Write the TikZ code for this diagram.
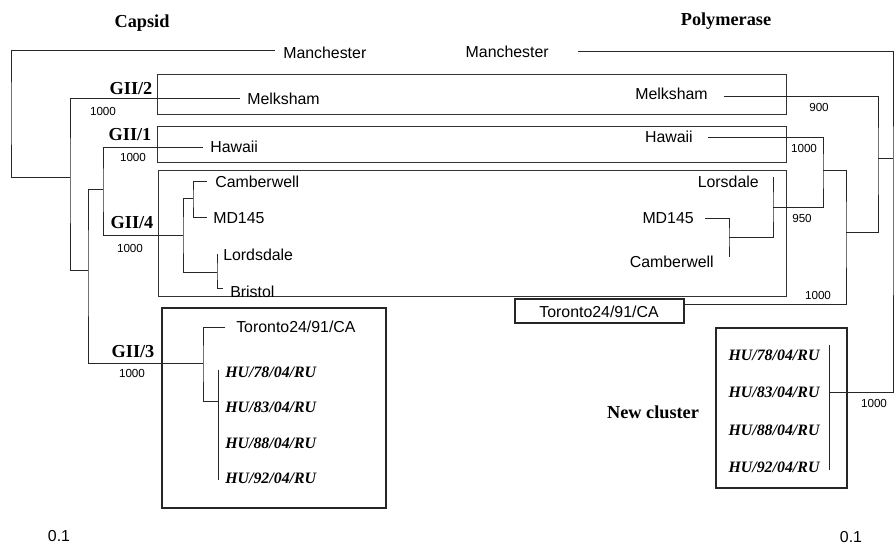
\documentclass[tikz,border=0pt]{standalone}
\usepackage{fontspec}
\setmainfont{Liberation Serif}
\setsansfont{Liberation Sans}
\usetikzlibrary{positioning}

\tikzset{
  leaf/.style={font=\sffamily\fontsize{11.3}{13}\selectfont, inner sep=0pt},
  clade/.style={font=\bfseries\fontsize{13}{15}\selectfont, inner sep=0pt},
  boot/.style={font=\sffamily\fontsize{8.3}{10}\selectfont, inner sep=0pt},
  strain/.style={font=\bfseries\itshape\fontsize{11.3}{13}\selectfont, inner sep=0pt},
  branch/.style={line width=0.7pt, draw=black!85},
  frame/.style={line width=0.55pt, draw=black!80},
  thickframe/.style={line width=1.1pt, draw=black!85}
}

\begin{document}
\begin{tikzpicture}[x=0.025cm, y=-0.025cm]
    \useasboundingbox (0,0) rectangle (896,544);

    % Titles
    \node[clade] (tCap) at (142,23) {Capsid};
    \node[clade] (tPol) at (726,21) {Polymerase};

    % Genogroup boxes
    \draw[frame] (157,74) rectangle (786,114);
    \draw[frame] (157,126) rectangle (786,162);
    \draw[frame] (158,170) rectangle (786,296);
    \draw[thickframe] (162,308) rectangle (386,508);
    \draw[thickframe] (716,328) rectangle (847,488);
    \draw[thickframe] (515,299) rectangle (684,323);

    % Capsid tree (left)
    \coordinate (lRoot) at (11,113);
    \coordinate (lMan) at (275,50);
    \coordinate (lN0) at (70,177);
    \coordinate (lMel) at (240,98);
    \coordinate (lN1) at (88,270);
    \coordinate (lN2) at (103,189);
    \coordinate (lHaw) at (203,147);
    \coordinate (lN3) at (183,235);
    \coordinate (lN4) at (193,198);
    \coordinate (lCam) at (207,181);
    \coordinate (lMD) at (207,217);
    \coordinate (lN5) at (217,272);
    \coordinate (lLor) at (217,254);
    \coordinate (lBri) at (223,288);
    \coordinate (lN6) at (203,363);
    \coordinate (lTor) at (225,327);
    \coordinate (lN7) at (218,401);
    \coordinate (lHUa) at (218,370);
    \coordinate (lHUb) at (218,480);

    \draw[branch] (lMan) -| (lRoot) |- (lN0);
    \draw[branch] (lMel) -| (lN0) |- (lN1);
    \draw[branch] (lN2) -| (lN1) |- (lN6);
    \draw[branch] (lHaw) -| (lN2) |- (lN3);
    \draw[branch] (lN4) -| (lN3) |- (lN5);
    \draw[branch] (lCam) -| (lN4) |- (lMD);
    \draw[branch] (lLor) -| (lN5) |- (lBri);
    \draw[branch] (lTor) -| (lN6) |- (lN7);
    \draw[branch] (lHUa) -- (lHUb);

    % Capsid leaves
    \node[leaf, anchor=west] (nlMan) at (283,53) {Manchester};
    \node[leaf, anchor=west] (nlMel) at (247,99) {Melksham};
    \node[leaf, anchor=west] (nlHaw) at (210,147) {Hawaii};
    \node[leaf, anchor=west] (nlCam) at (215,182) {Camberwell};
    \node[leaf, anchor=west] (nlMD) at (213,218) {MD145};
    \node[leaf, anchor=west] (nlLor) at (223,255) {Lordsdale};
    \node[leaf, anchor=west] (nlBri) at (230,292) {Bristol};
    \node[leaf, anchor=west] (nlTor) at (236,327) {Toronto24/91/CA};
    \foreach \n/\y in {78/372, 83/407, 88/443, 92/478} {
      \node[strain, anchor=west] (nlHU\n) at (225,\y) {HU/\n/04/RU};
    }

    % Genogroups and bootstrap values
    \foreach \g/\x/\y in {2/131/89, 1/130/135, 4/132/223, 3/133/352} {
      \node[clade] (gII\g) at (\x,\y) {GII/\g};
    }
    \foreach \x/\y [count=\i] in {103/111, 133/157, 130/248, 132/373} {
      \node[boot] (bL\i) at (\x,\y) {1000};
    }

    % Polymerase tree (right)
    \coordinate (rRoot) at (893,200);
    \coordinate (rMan) at (578,51);
    \coordinate (rA) at (878,158);
    \coordinate (rMel) at (724,96);
    \coordinate (rB) at (846,232);
    \coordinate (rC) at (823,170);
    \coordinate (rTor) at (684,304);
    \coordinate (rHaw) at (708,137);
    \coordinate (rD) at (773,207);
    \coordinate (rLor) at (773,177);
    \coordinate (rE) at (729,237);
    \coordinate (rMD) at (705,218);
    \coordinate (rCam) at (729,257);
    \coordinate (rNC) at (829,392);
    \coordinate (rHUa) at (829,345);
    \coordinate (rHUb) at (829,470);

    \draw[branch] (rMan) -| (rRoot) |- (rNC);
    \draw[branch] (rA) -- (rA -| rRoot);
    \draw[branch] (rMel) -| (rA) |- (rB);
    \draw[branch] (rC) -| (rB) |- (rTor);
    \draw[branch] (rHaw) -| (rC) |- (rD);
    \draw[branch] (rLor) -| (rD) |- (rE);
    \draw[branch] (rMD) -| (rE) |- (rCam);
    \draw[branch] (rHUa) -- (rHUb);

    % Polymerase leaves
    \node[leaf, anchor=east] (nrMan) at (549,52) {Manchester};
    \node[leaf, anchor=east] (nrMel) at (708,94) {Melksham};
    \node[leaf, anchor=east] (nrHaw) at (693,137) {Hawaii};
    \node[leaf, anchor=east] (nrLor) at (759,182) {Lorsdale};
    \node[leaf, anchor=east] (nrMD) at (694,218) {MD145};
    \node[leaf, anchor=east] (nrCam) at (714,262) {Camberwell};
    \node[leaf] (nrTor) at (599,312) {Toronto24/91/CA};
    \foreach \n/\y in {78/355, 83/392, 88/430, 92/467} {
      \node[strain] (nrHU\n) at (774,\y) {HU/\n/04/RU};
    }
    \node[clade] (tNew) at (653,412) {New cluster};

    % Bootstrap values
    \foreach \x/\y/\v [count=\i] in {819/107/900, 804/148/1000, 802/218/950,
                                     818/295/1000, 874/403/1000} {
      \node[boot] (bR\i) at (\x,\y) {\v};
    }

    % Scale
    \node[leaf] (sL) at (59,536) {0.1};
    \node[leaf] (sR) at (851,537) {0.1};
\end{tikzpicture}
\end{document}
